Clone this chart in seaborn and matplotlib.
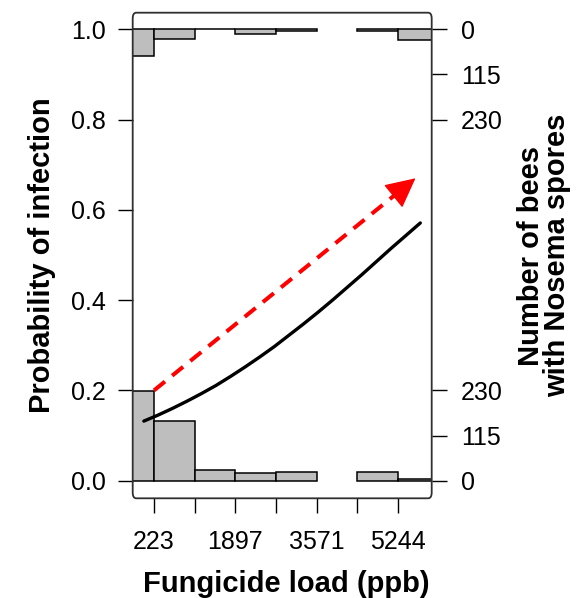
import matplotlib
matplotlib.use("Agg")
import matplotlib.pyplot as plt
from matplotlib.patches import FancyBboxPatch
import numpy as np
import pandas as pd
import seaborn as sns

# ---- data ----
bin_edges = [-614, 223, 1060, 1897, 2734, 3571, 4407, 5244, 6081]
count_uninfected = [229, 153, 27, 19, 22, None, 22, 5]   # bottom histogram
count_infected = [69, 25, 0, 13, 5, None, 5, 26]         # top histogram (hangs from 1.0)
count_ticks = [0, 115, 230]
curve_x = [13, 300, 600, 900, 1200, 1500, 1800, 2100, 2400, 2700, 3000, 3300,
           3600, 3900, 4200, 4500, 4800, 5100, 5400, 5709]
curve_p = [0.132, 0.145, 0.160, 0.176, 0.193, 0.211, 0.231, 0.252, 0.274, 0.297,
           0.322, 0.347, 0.373, 0.400, 0.428, 0.456, 0.485, 0.514, 0.542, 0.571]
arrow_start = (223, 0.20)
arrow_end = (5610, 0.670)
x_ticks = [223, 1060, 1897, 2734, 3571, 4407, 5244]
x_tick_labels = ["223", "", "1897", "", "3571", "", "5244"]
y_ticks = [0.0, 0.2, 0.4, 0.6, 0.8, 1.0]
y_tick_labels = ["0.0", "0.2", "0.4", "0.6", "0.8", "1.0"]

sns.set_style("white")
plt.rcParams["font.family"] = ["Liberation Sans", "DejaVu Sans"]

W, H = 580, 598
fig = plt.figure(figsize=(W / 100, H / 100), dpi=100)
ax = fig.add_axes([132.7 / W, 1 - 498.3 / H, 299 / W, 485.6 / H])

xlim = (-216, 5944)
ylim = (-0.039, 1.0368)
scale = 0.2 / 230  # counts -> probability units

lefts = np.array(bin_edges[:-1], dtype=float)
widths = np.diff(bin_edges).astype(float)
bar_kw = dict(align="edge", color="#bebebe", edgecolor="black", linewidth=1.1, zorder=2)
for l, w, c in zip(lefts, widths, count_uninfected):
    if c is None:
        continue
    ax.bar(l, c * scale, width=w, bottom=0.0, **bar_kw)
for l, w, c in zip(lefts, widths, count_infected):
    if c is None:
        continue
    ax.bar(l, -c * scale, width=w, bottom=1.0, **bar_kw)

df = pd.DataFrame({"x": curve_x, "p": curve_p})
sns.lineplot(data=df, x="x", y="p", color="black", linewidth=2.4, ax=ax, zorder=3)

# dashed red arrow: dashed shaft + solid head
sx, sy = arrow_start
ex, ey = arrow_end
f_shaft, f_head = 0.925, 0.91
ax.plot([sx, sx + f_shaft * (ex - sx)], [sy, sy + f_shaft * (ey - sy)],
        color="red", lw=2.9, ls=(0, (3.5, 2.3)), zorder=4, solid_capstyle="butt")
ax.annotate("", xy=arrow_end,
            xytext=(sx + f_head * (ex - sx), sy + f_head * (ey - sy)),
            arrowprops=dict(arrowstyle="-|>,head_length=1.9,head_width=0.95",
                            mutation_scale=10, lw=1.0, color="red",
                            shrinkA=0, shrinkB=0),
            zorder=4)

ax.set_xlim(*xlim)
ax.set_ylim(*ylim)
ax.set_xticks(x_ticks)
ax.set_xticklabels(x_tick_labels)
ax.set_yticks(y_ticks)
ax.set_yticklabels(y_tick_labels)
ax.tick_params(axis="both", direction="out", length=10.5, width=1.0,
               labelsize=18, pad=9, colors="black", labelcolor="black",
               bottom=True, left=True, top=False, right=False)
ax.tick_params(axis="x", pad=12)

ax2 = ax.twinx()
ax2.set_ylim(*ylim)
right_pos = [c * scale for c in count_ticks] + [1.0 - c * scale for c in count_ticks]
right_lab = [str(c) for c in count_ticks] + [str(c) for c in count_ticks]
ax2.set_yticks(right_pos)
ax2.set_yticklabels(right_lab)
ax2.tick_params(axis="y", direction="out", length=10.5, width=1.0,
                labelsize=18, pad=10.5, colors="black", labelcolor="black",
                right=True, left=False)

for a in (ax, ax2):
    for s in a.spines.values():
        s.set_visible(False)

frame = FancyBboxPatch((0, 0), 1, 1, boxstyle="round,pad=0,rounding_size=0.012",
                       transform=ax.transAxes, fill=False, edgecolor="#303030",
                       linewidth=1.3, clip_on=False, zorder=5)
ax.add_patch(frame)

ax.set_xlabel("Fungicide load (ppb)", fontsize=21, fontweight="bold", color="black")
ax.xaxis.set_label_coords((286 - 132.7) / 299, (498.3 - 592) / 485.6)
ax.xaxis.label.set_va("baseline")

ax.set_ylabel("Probability of infection", fontsize=21, fontweight="bold", color="black")
ax.yaxis.set_label_coords((50 - 132.7) / 299, 0.5)
ax.yaxis.label.set_va("baseline")

ax2.set_ylabel("Number of bees\nwith Nosema spores", fontsize=21, fontweight="bold",
               rotation=90, linespacing=0.95, color="black")
ax2.yaxis.set_label_coords((544 - 132.7) / 299, 0.5)
ax2.yaxis.label.set_va("center")
ax2.yaxis.label.set_ha("center")
ax2.yaxis.label.set_rotation_mode("anchor")

fig.savefig("out.png", dpi=100, facecolor="white")
